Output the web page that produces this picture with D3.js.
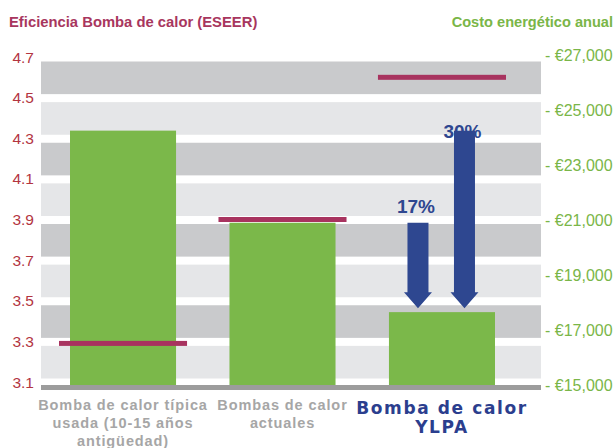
<!DOCTYPE html>
<html><head><meta charset="utf-8">
<script src="https://cdn.jsdelivr.net/npm/d3@7"></script>
<style>body{margin:0;background:#fff}svg{display:block}</style>
</head><body>
<svg id="c" width="615" height="448"></svg>
<script>
const categories = ["old", "current", "ylpa"];
const categoryLines = [
  ["Bomba de calor típica", "usada (10-15 años", "antigüedad)"],
  ["Bombas de calor", "actuales"],
  ["Bomba de calor", "YLPA"]
];
const annualCost = [24250, 20900, 17650];
const eseer = [3.29, 3.9, 4.6];
const leftTicks = [3.1, 3.3, 3.5, 3.7, 3.9, 4.1, 4.3, 4.5, 4.7];
const rightTicks = [15000, 17000, 19000, 21000, 23000, 25000, 27000];
const savingsFrom = ["current", "old"];
const savingsLabels = ["17%", "30%"];
const savingsTo = "ylpa";

const svg = d3.select("#c");
const plotL = 41, plotR = 541;
const yL = d3.scaleLinear().domain([3.1, 4.7]).range([382, 57]);
const yR = d3.scaleLinear().domain([15000, 27000]).range([385, 55]);
const x = d3.scaleBand().domain(categories).range([70, 495]).paddingInner(0.335).paddingOuter(0);

// bands
const bandPairs = d3.pairs(leftTicks.slice().reverse());
svg.append("g").selectAll("rect").data(bandPairs).join("rect")
  .attr("x", plotL).attr("width", plotR - plotL)
  .attr("y", d => yL(d[0]) + 4.5)
  .attr("height", d => yL(d[1]) - yL(d[0]) - 8)
  .attr("fill", (d, i) => i % 2 === 0 ? "#c9cacc" : "#e5e6e8");

// baseline
svg.append("rect").attr("x", plotL).attr("width", plotR - plotL)
  .attr("y", yR(15000)).attr("height", 5).attr("fill", "#9c9c9c");

// bars
svg.append("g").selectAll("rect").data(categories).join("rect")
  .attr("x", d => x(d)).attr("width", x.bandwidth())
  .attr("y", (d, i) => yR(annualCost[i]))
  .attr("height", (d, i) => yR(15000) - yR(annualCost[i]))
  .attr("fill", "#7bb84a");

// ESEER lines
svg.append("g").selectAll("rect").data(categories).join("rect")
  .attr("x", d => x(d) - 11).attr("width", x.bandwidth() + 22)
  .attr("y", (d, i) => yL(eseer[i]) - 2.5).attr("height", 5)
  .attr("fill", "#a8335f");

// arrows
const arrowOffsets = [-24, 22.5];
const labelOffsets = [-10, 7];
const blue = "#2e4790";
const costOf = c => annualCost[categories.indexOf(c)];
savingsFrom.forEach((c, i) => {
  const cx = x(savingsTo) + x.bandwidth() / 2 + arrowOffsets[i];
  const top = yR(costOf(c));
  const tip = yR(costOf(savingsTo)) - 4;
  const headLen = 16, sw = 10.5, hw = 14;
  const pts = [[cx - sw, top], [cx + sw, top], [cx + sw, tip - headLen], [cx + hw, tip - headLen],
    [cx, tip], [cx - hw, tip - headLen], [cx - sw, tip - headLen]];
  svg.append("text").attr("x", cx - 2).attr("y", top + labelOffsets[i])
    .attr("text-anchor", "middle").attr("font-family", "Liberation Sans, Arial, sans-serif")
    .attr("font-weight", "bold").attr("font-size", 19).attr("fill", blue)
    .text(savingsLabels[i]);
  svg.append("path").attr("d", d3.line()(pts) + "Z").attr("fill", blue);
});

// left axis labels
svg.append("g").selectAll("text").data(leftTicks).join("text")
  .attr("x", 34).attr("y", d => yL(d)).attr("dy", "0.36em")
  .attr("text-anchor", "end").attr("font-family", "Liberation Sans, Arial, sans-serif")
  .attr("font-size", 15.5).attr("fill", "#b3353f")
  .text(d => d3.format(".1f")(d));

// right axis labels
svg.append("g").selectAll("text").data(rightTicks).join("text")
  .attr("x", 545).attr("y", d => yR(d)).attr("dy", "0.36em")
  .attr("font-family", "Liberation Sans, Arial, sans-serif")
  .attr("font-size", 16).attr("fill", "#7ab648")
  .text(d => "- €" + d3.format(",")(d));

// titles
svg.append("text").attr("x", 9).attr("y", 27)
  .attr("font-family", "Liberation Sans, Arial, sans-serif").attr("font-weight", "bold")
  .attr("font-size", 14.8).attr("fill", "#a8365e").text("Eficiencia Bomba de calor (ESEER)");
svg.append("text").attr("x", 613).attr("y", 27).attr("text-anchor", "end")
  .attr("font-family", "Liberation Sans, Arial, sans-serif").attr("font-weight", "bold")
  .attr("font-size", 14.6).attr("fill", "#7ab648").text("Costo energético anual");

// category labels
categories.forEach((c, i) => {
  const special = i === 2;
  const t = svg.append("text")
    .attr("text-anchor", "middle")
    .attr("font-family", special ? "DejaVu Sans, sans-serif" : "Liberation Sans, Arial, sans-serif")
    .attr("font-weight", "bold")
    .attr("font-size", special ? 17 : 14.5)
    .attr("letter-spacing", special ? 1.6 : 0.9)
    .attr("fill", special ? "#2b3e8e" : "#a6a6a6");
  categoryLines[i].forEach((line, j) => {
    t.append("tspan").attr("x", x(c) + x.bandwidth() / 2)
      .attr("y", (special ? 414 : 410) + j * (special ? 19 : 18)).text(line);
  });
});
</script>
</body></html>
